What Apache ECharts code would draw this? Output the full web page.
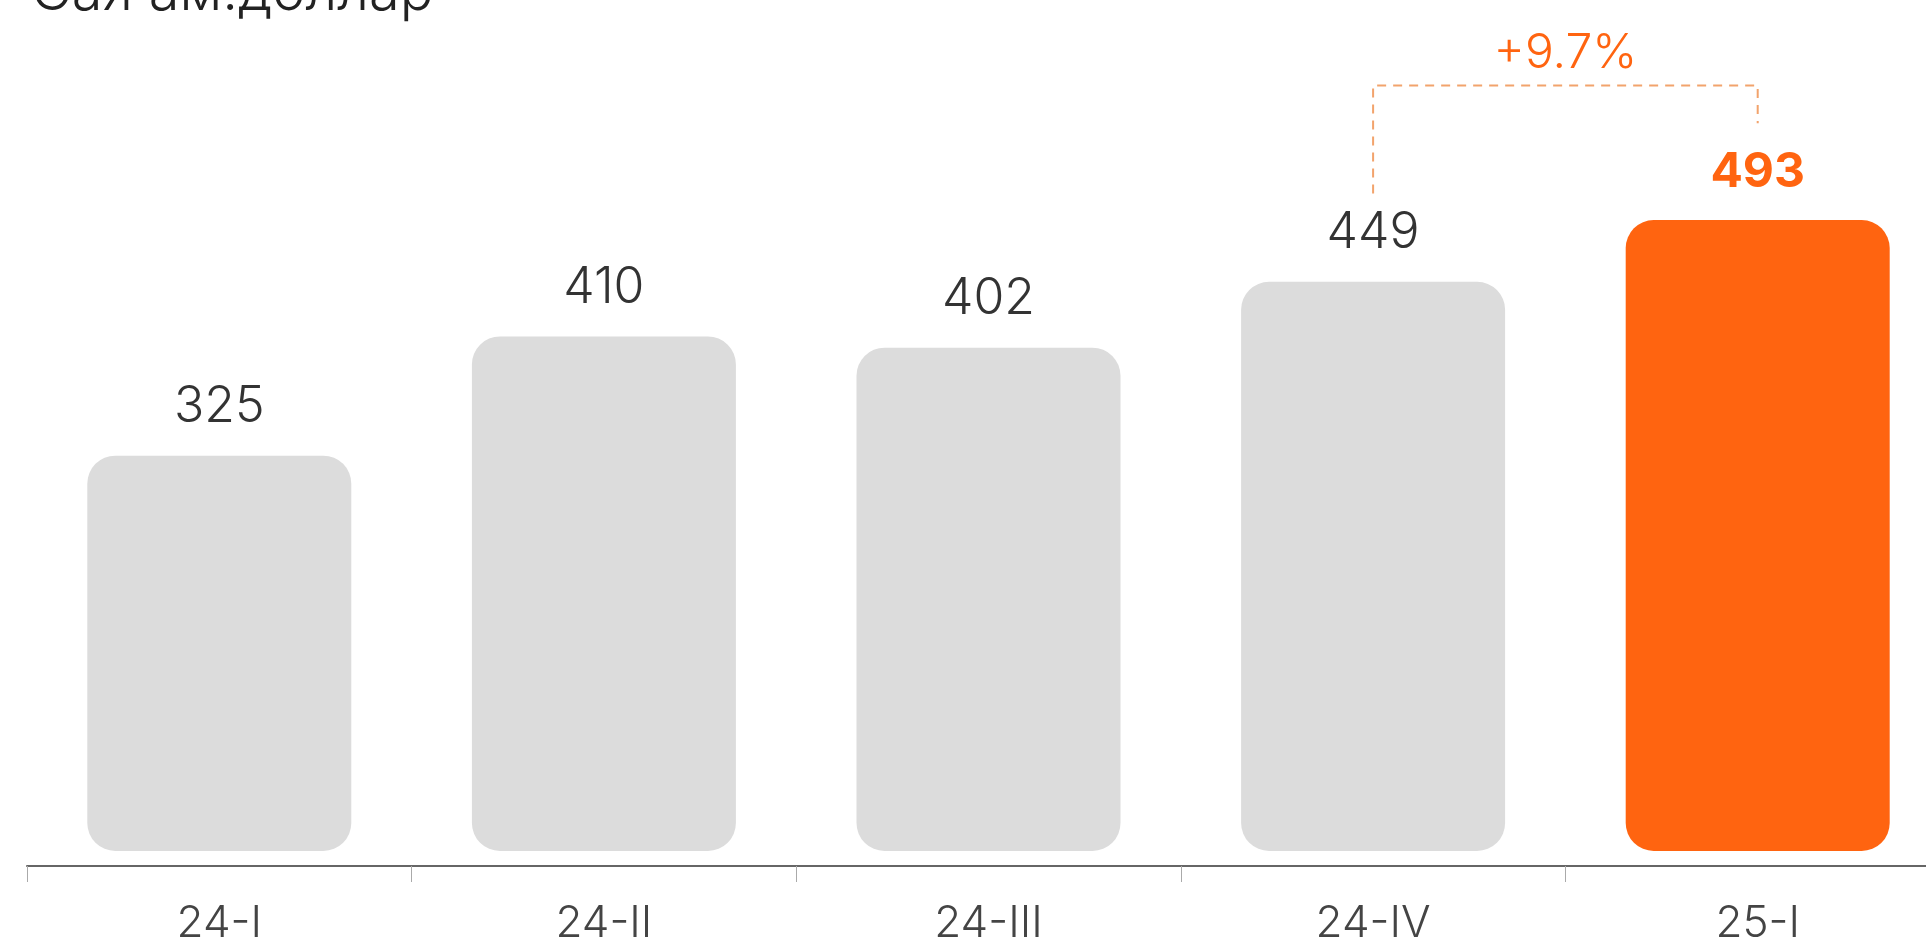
<!DOCTYPE html>
<html><head><meta charset="utf-8">
<script src="https://cdn.jsdelivr.net/npm/echarts@6.0.0/dist/echarts.min.js"></script>
<style>html,body{margin:0;padding:0;background:#fff}#c{width:1926px;height:942px}</style>
</head><body><div id="c"></div>
<script>
// ---- data ----
const categories = ['24-I', '24-II', '24-III', '24-IV', '25-I'];
const values = [325, 410, 402, 449, 493];
const titleText = 'Сая ам.доллар';
const growthLabel = '+9.7%';
const highlightIndex = 4;
const compareFrom = 3;

// ---- styles ----
const FONT = 'Inter';
const GREY = '#dcdcdc';
const ORANGE = '#ff6410';
const BRACKET = '#f2a36c';

const chart = echarts.init(document.getElementById('c'), null, {renderer: 'canvas'});

const barData = values.map((v, i) => ({
  value: v,
  itemStyle: {color: i === highlightIndex ? ORANGE : GREY},
  label: i === highlightIndex
    ? {color: ORANGE, fontWeight: 'bold', fontSize: 48}
    : {}
}));

// bracket drawn in data space above the two compared bars
const vA = values[compareFrom], vB = values[highlightIndex];
const bracketTop = Math.max(vA, vB) + 96;
const bracketData = [
  [compareFrom, vA + 63],
  [compareFrom, bracketTop],
  [highlightIndex, bracketTop],
  [highlightIndex, vB + 69]
];

chart.setOption({
  backgroundColor: '#fff',
  animation: false,
  title: {
    text: titleText,
    left: 26, top: -40,
    textStyle: {fontFamily: FONT, fontSize: 56, fontWeight: 300, color: '#222'}
  },
  grid: {left: 27, width: 1923, top: 0, bottom: 91, containLabel: false, outerBoundsMode: 'none'},
  xAxis: {
    type: 'category',
    data: categories,
    offset: 15,
    axisLine: {lineStyle: {color: '#666', width: 2}},
    axisTick: {show: true, length: 16, lineStyle: {color: '#aaa', width: 1}},
    axisLabel: {fontFamily: FONT, fontSize: 44, fontWeight: 300, color: '#444', margin: 36}
  },
  yAxis: {
    type: 'value', min: 43, max: 650, show: false,
    splitLine: {show: false}
  },
  series: [
    {
      type: 'bar',
      data: barData,
      barWidth: 264,
      itemStyle: {borderRadius: 28},
      label: {
        show: true, position: 'top', distance: 24,
        fontFamily: FONT, fontSize: 50, fontWeight: 300, color: '#333'
      }
    },
    {
      type: 'line',
      data: bracketData,
      symbol: 'none',
      silent: true,
      lineStyle: {color: BRACKET, width: 2, type: [9, 7]}
    }
  ]
});

const pA = chart.convertToPixel({seriesIndex: 1}, [compareFrom, bracketTop]);
const pB = chart.convertToPixel({seriesIndex: 1}, [highlightIndex, bracketTop]);
chart.setOption({
  graphic: [{
    type: 'text',
    x: (pA[0] + pB[0]) / 2,
    y: pA[1] - 32,
    style: {
      text: growthLabel, fontFamily: FONT, fontSize: 48, fontWeight: 300,
      fill: ORANGE, textAlign: 'center', textVerticalAlign: 'middle'
    }
  }]
});
</script>
</body></html>
